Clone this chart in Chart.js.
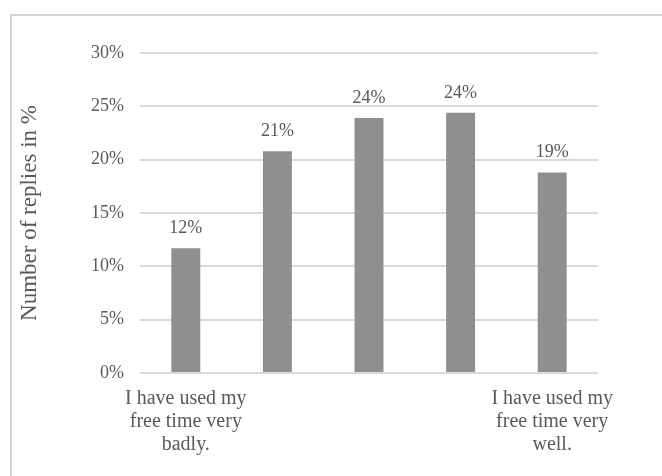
<!DOCTYPE html>
<html lang="en">
<head>
    <meta charset="UTF-8">
    <title>Use of free time</title>
    <style>
        html, body {
            margin: 0;
            padding: 0;
            background: #fff;
            overflow: hidden;
        }
        #frame {
            position: absolute;
            left: 10px;
            top: 14px;
            width: 700px;
            height: 500px;
            border-top: 2px solid #d4d4d4;
            border-left: 2px solid #d4d4d4;
        }
        #wrap {
            position: absolute;
            left: 0;
            top: 0;
            width: 662px;
            height: 476px;
        }
    </style>
    <script src="https://cdn.jsdelivr.net/npm/chart.js"></script>
</head>
<body>
    <div id="frame"></div>
    <div id="wrap"><canvas id="chart" width="662" height="476"></canvas></div>

    <script>
        // categories (only the two ends carry a label)
        const categories = [
            ['I have used my', 'free time very', 'badly.'],
            '',
            '',
            '',
            ['I have used my', 'free time very', 'well.']
        ];
        const replies = [11.7, 20.8, 23.9, 24.4, 18.8];
        const yTicks = [0, 5, 10, 15, 20, 25, 30];

        const textGrey = '#595959';
        const serif = "'Liberation Serif', 'DejaVu Serif', serif";

        // writes the rounded value above each bar
        const barLabels = {
            id: 'barLabels',
            afterDatasetsDraw(chart) {
                const ctx = chart.ctx;
                const meta = chart.getDatasetMeta(0);
                ctx.save();
                ctx.font = '18px ' + serif;
                ctx.fillStyle = textGrey;
                ctx.textAlign = 'center';
                ctx.textBaseline = 'alphabetic';
                meta.data.forEach((bar, i) => {
                    ctx.fillText(Math.round(replies[i]) + '%', bar.x, bar.y - 15);
                });
                ctx.restore();
            }
        };

        new Chart(document.getElementById('chart'), {
            type: 'bar',
            data: {
                labels: categories,
                datasets: [{
                    data: replies,
                    backgroundColor: '#8f8f8f',
                    borderWidth: 0,
                    categoryPercentage: 1,
                    barPercentage: 0.316
                }]
            },
            options: {
                responsive: false,
                animation: false,
                devicePixelRatio: 1,
                layout: {
                    padding: { left: 0, right: 64, top: 53, bottom: 0 }
                },
                plugins: {
                    legend: { display: false },
                    tooltip: { enabled: false }
                },
                scales: {
                    x: {
                        grid: { display: false, drawTicks: false },
                        border: { display: false },
                        ticks: {
                            color: textGrey,
                            font: { family: serif, size: 20, lineHeight: 1.15 },
                            padding: 14,
                            maxRotation: 0,
                            autoSkip: false
                        },
                        afterFit(scale) { scale.height = 103; }
                    },
                    y: {
                        min: 0,
                        max: 30,
                        afterBuildTicks(scale) {
                            scale.ticks = yTicks.map(v => ({ value: v }));
                        },
                        grid: { color: '#d9d9d9', lineWidth: 2, drawTicks: false },
                        border: { display: false },
                        ticks: {
                            color: textGrey,
                            font: { family: serif, size: 18 },
                            padding: 16,
                            callback: v => v + '%'
                        },
                        title: {
                            display: true,
                            text: 'Number of replies in %',
                            color: textGrey,
                            font: { family: serif, size: 23 },
                            padding: { top: 16, bottom: 0 }
                        },
                        afterFit(scale) { scale.width = 140; }
                    }
                }
            },
            plugins: [barLabels]
        });
    </script>
</body>
</html>
